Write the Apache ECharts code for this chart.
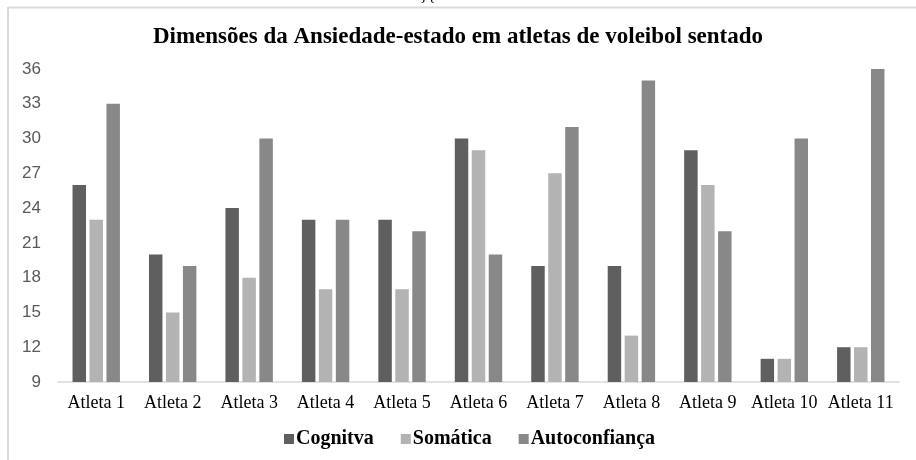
<!DOCTYPE html>
<html lang="pt">
<head>
  <meta charset="UTF-8">
  <title>Ansiedade-estado</title>
  <script src="https://cdn.jsdelivr.net/npm/echarts@6/dist/echarts.min.js"></script>
  <style>
    html, body { margin: 0; padding: 0; background: #fff; }
    #chart { width: 916px; height: 460px; }
  </style>
</head>
<body>
<div id="chart"></div>
<script>
  // dados
  var atletas = ['Atleta 1', 'Atleta 2', 'Atleta 3', 'Atleta 4', 'Atleta 5', 'Atleta 6',
                 'Atleta 7', 'Atleta 8', 'Atleta 9', 'Atleta 10', 'Atleta 11'];
  var cognitiva = [26, 20, 24, 23, 23, 30, 19, 19, 29, 11, 12];
  var somatica = [23, 15, 18, 17, 17, 29, 27, 13, 26, 11, 12];
  var autoconfianca = [33, 19, 30, 23, 22, 20, 31, 35, 22, 30, 36];
  var nomes = ['Cognitva', 'Somática', 'Autoconfiança'];
  var cores = ['#5f5f5f', '#b3b3b3', '#888888'];

  var chart = echarts.init(document.getElementById('chart'));

  function serie(nome, valores, cor) {
    return {
      name: nome,
      type: 'bar',
      data: valores,
      itemStyle: { color: cor },
      barGap: '26%',
      barCategoryGap: '38%'
    };
  }

  var option = {
    animation: false,
    title: {
      text: 'Dimensões da Ansiedade-estado em atletas de voleibol sentado',
      left: 'center',
      top: 21,
      textStyle: { fontFamily: 'Liberation Serif', fontWeight: 'bold', fontSize: 23, color: '#000' }
    },
    legend: {
      data: nomes,
      bottom: 6,
      left: 279,
      itemWidth: 10,
      itemHeight: 10,
      itemGap: 27,
      icon: 'rect',
      textStyle: { fontFamily: 'Liberation Serif', fontWeight: 'bold', fontSize: 20, color: '#000', padding: [0, 0, 0, -3] }
    },
    grid: { left: 58, right: 17, top: 69, bottom: 78, containLabel: false },
    xAxis: {
      type: 'category',
      data: atletas,
      axisLine: { lineStyle: { color: '#d9d9d9', width: 1.5 } },
      axisTick: { show: false },
      axisLabel: { interval: 0, fontFamily: 'Liberation Serif', fontSize: 18, color: '#000', margin: 12 }
    },
    yAxis: {
      type: 'value',
      min: 9,
      max: 36,
      interval: 3,
      splitLine: { show: false },
      axisLine: { show: false },
      axisTick: { show: false },
      axisLabel: { fontFamily: 'Liberation Sans', fontSize: 17, color: '#595959', margin: 17 }
    },
    series: [
      serie(nomes[0], cognitiva, cores[0]),
      serie(nomes[1], somatica, cores[1]),
      serie(nomes[2], autoconfianca, cores[2])
    ],
    graphic: [
      { type: 'line', shape: { x1: 8, y1: 7.5, x2: 916, y2: 7.5 }, style: { stroke: '#d9d9d9', lineWidth: 2 } },
      { type: 'line', shape: { x1: 8, y1: 7, x2: 8, y2: 460 }, style: { stroke: '#d9d9d9', lineWidth: 2 } },
      { type: 'text', left: 420, top: -11, style: { text: '}{', font: '16px "Liberation Serif"', fill: '#000' } }
    ]
  };

  chart.setOption(option);
</script>
</body>
</html>
